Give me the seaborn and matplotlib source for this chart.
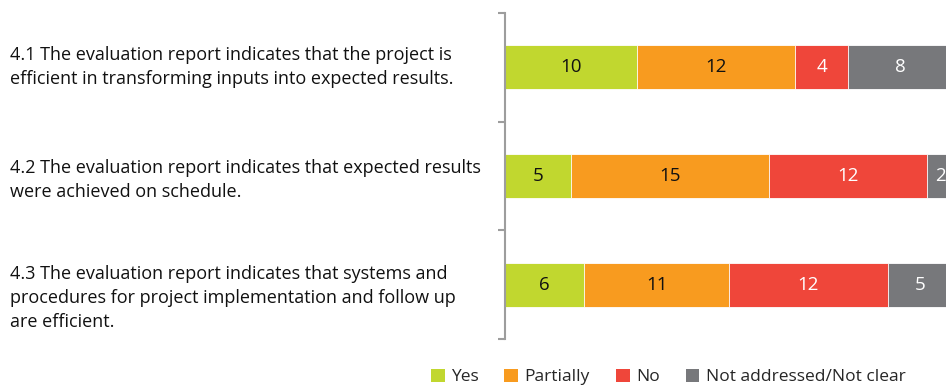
import matplotlib
matplotlib.use("Agg")
import matplotlib.pyplot as plt
import matplotlib.transforms as mtransforms
from matplotlib.patches import Patch
import numpy as np
import pandas as pd
import seaborn as sns

# Survey items and answer counts
questions = [
    "4.1 The evaluation report indicates that the project is\nefficient in transforming inputs into expected results.",
    "4.2 The evaluation report indicates that expected results\nwere achieved on schedule.",
    "4.3 The evaluation report indicates that systems and\nprocedures for project implementation and follow up\nare efficient.",
]
categories = ["Yes", "Partially", "No", "Not addressed/Not clear"]
yes = [10, 5, 6]
partially = [12, 15, 11]
no = [4, 12, 12]
not_clear = [8, 2, 5]

colors = ["#C1D72F", "#F89B1F", "#EF463A", "#77787B"]
text_colors = ["#111111", "#111111", "white", "white"]

sns.set_theme(style="white")
plt.rcParams["font.family"] = ["Open Sans", "DejaVu Sans"]

series = [yes, partially, no, not_clear]
keys = ["q1", "q2", "q3"]
df = pd.DataFrame({"item": keys})
for name, vals in zip(categories, series):
    df[name] = vals
cum = df[categories].cumsum(axis=1)

fig = plt.figure(figsize=(9.46, 3.85), dpi=100)
ax_left = 505 / 946
ax = fig.add_axes([ax_left, 1 - 339 / 385, 1 - ax_left, (339 - 13) / 385])

# Stacked bars: draw cumulative totals from the outermost segment inward
for name, col in reversed(list(zip(categories, colors))):
    sns.barplot(data=cum.assign(item=keys), x=name, y="item", orient="h",
                color=col, width=0.405, saturation=1, edgecolor="white",
                linewidth=0.6, ax=ax)

ax.set_xlim(0, 441 / 13.19)
ax.set_ylim(2.5, -0.5)
ax.set_xlabel("")
ax.set_ylabel("")
ax.set_xticks([])
ax.set_yticks([])
ax.set_yticks([-0.5, 0.5, 1.5, 2.5], minor=True)
ax.tick_params(axis="y", which="minor", left=True, length=5, width=1.5,
               color="#9D9D9D", direction="out")
for s in ["top", "right", "bottom"]:
    ax.spines[s].set_visible(False)
ax.spines["left"].set_color("#9D9D9D")
ax.spines["left"].set_linewidth(1.5)

# Segment value labels
for i in range(len(keys)):
    for j, name in enumerate(categories):
        v = df.loc[i, name]
        c = cum.loc[i, name]
        ax.text(c - v / 2, i, f"{v}", ha="center", va="center",
                fontsize=13.5, color=text_colors[j], clip_on=False)

# Question text on the left
trans = mtransforms.blended_transform_factory(fig.transFigure, ax.transData)
offsets = [0.0, 0.04, 0.12]
for i, q in enumerate(questions):
    fig.text(10 / 946, i + offsets[i], q, transform=trans, ha="left",
             va="center", fontsize=13, color="#111111", linespacing=1.42)

handles = [Patch(facecolor=c, edgecolor="none") for c in colors]
fig.legend(handles, categories, loc="center", ncol=4,
           bbox_to_anchor=(668 / 946, 1 - 377 / 385), frameon=False,
           fontsize=12.5, handlelength=0.8, handleheight=0.8,
           handletextpad=0.35, columnspacing=1.5)

fig.savefig("out.png", dpi=100)
